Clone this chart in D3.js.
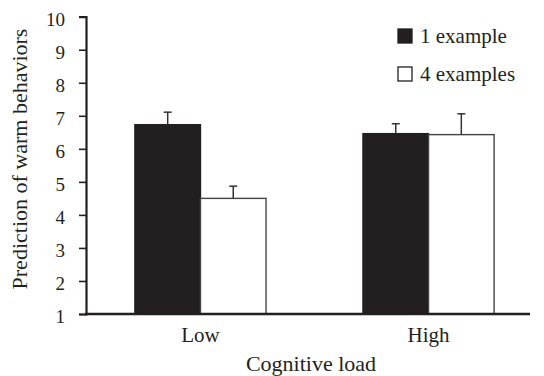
<!DOCTYPE html>
<html>
<head>
<meta charset="utf-8">
<script src="https://cdn.jsdelivr.net/npm/d3@7"></script>
<style>
  body { margin: 0; background: #fff; }
  #chart { position: relative; width: 544px; height: 376px; }
  #chart svg { position: absolute; left: 0; top: 0; }
</style>
</head>
<body>
<div id="chart">
  <div style="position:absolute; left:311px; top:353.1px; font-family:'Liberation Serif'; font-size:22px; line-height:1; color:#231f20; white-space:nowrap; transform:translateX(-50%);">Cognitive load</div>
  <div style="position:absolute; left:26.5px; top:159px; font-family:'Liberation Serif'; font-size:22px; line-height:1; color:#231f20; white-space:nowrap; transform-origin:0 0; transform:rotate(-90deg) translate(-50%, -0.8375em);">Prediction of warm behaviors</div>
</div>
<script>
// data
var categories = ["Low", "High"];
var seriesNames = ["1 example", "4 examples"];
var oneExample = [6.73, 6.46];
var fourExamples = [4.50, 6.43];
var oneExampleErr = [0.38, 0.30];
var fourExamplesErr = [0.37, 0.63];
var yTicks = [1, 2, 3, 4, 5, 6, 7, 8, 9, 10];

var svgWidth = 544;
var svgHeight = 376;
var ink = "#231f20";

var chart = d3.select("#chart");
var svg = chart.insert("svg", ":first-child")
  .attr("width", svgWidth)
  .attr("height", svgHeight);

// text goes in html so the serif face is used
function label(x, baseline, txt, size, anchor) {
  var shift = anchor === "middle" ? "-50%" : anchor === "end" ? "-100%" : "0";
  return chart.append("div")
    .attr("style", "position:absolute; font-family:'Liberation Serif'; line-height:1; color:#231f20; white-space:nowrap;"
      + " left:" + x + "px; top:" + (baseline - 0.8375 * size) + "px; font-size:" + size + "px;"
      + " transform:translateX(" + shift + ");")
    .text(txt);
}

var yScale = d3.scaleLinear()
  .domain([1, 10])
  .range([314, 16.7]);

var x0 = d3.scaleBand()
  .domain(categories)
  .range([87, 542])
  .paddingInner(0.425)
  .paddingOuter(0.21);

var x1 = d3.scaleBand()
  .domain(seriesNames)
  .range([0, x0.bandwidth()]);

var rows = [];
categories.forEach(function(c, i) {
  rows.push({cat: c, s: seriesNames[0], v: oneExample[i], e: oneExampleErr[i]});
  rows.push({cat: c, s: seriesNames[1], v: fourExamples[i], e: fourExamplesErr[i]});
});

// y axis (lines from d3, numbers as html)
var yAxis = d3.axisLeft(yScale)
  .tickValues(yTicks)
  .tickSize(7)
  .tickFormat("");

var yG = svg.append("g")
  .attr("transform", "translate(86,0)")
  .call(yAxis);
yG.select(".domain").attr("stroke", ink).attr("stroke-width", 2.2);
yG.selectAll(".tick line").attr("stroke", ink).attr("stroke-width", 1.6);

yTicks.forEach(function(t) {
  label(65, yScale(t) + 9, d3.format("d")(t), 19, "end");
});

// bars
svg.selectAll(".bar")
  .data(rows)
  .enter()
  .append("rect")
  .attr("class", "bar")
  .attr("x", d => x0(d.cat) + x1(d.s))
  .attr("y", d => yScale(d.v))
  .attr("width", x1.bandwidth())
  .attr("height", d => yScale(1) - yScale(d.v))
  .attr("fill", d => d.s === seriesNames[0] ? ink : "#fff")
  .attr("stroke", d => d.s === seriesNames[0] ? ink : "#444")
  .attr("stroke-width", 1.4);

// error bars
var errG = svg.selectAll(".err")
  .data(rows)
  .enter()
  .append("g")
  .attr("class", "err")
  .attr("stroke", "#333")
  .attr("stroke-width", 1.5);

errG.append("line")
  .attr("x1", d => x0(d.cat) + x1(d.s) + x1.bandwidth() / 2)
  .attr("x2", d => x0(d.cat) + x1(d.s) + x1.bandwidth() / 2)
  .attr("y1", d => yScale(d.v))
  .attr("y2", d => yScale(d.v + d.e));

errG.append("line")
  .attr("x1", d => x0(d.cat) + x1(d.s) + x1.bandwidth() / 2 - 4)
  .attr("x2", d => x0(d.cat) + x1(d.s) + x1.bandwidth() / 2 + 4)
  .attr("y1", d => yScale(d.v + d.e))
  .attr("y2", d => yScale(d.v + d.e));

// x axis
svg.append("line")
  .attr("x1", 85)
  .attr("x2", 530)
  .attr("y1", yScale(1))
  .attr("y2", yScale(1))
  .attr("stroke", ink)
  .attr("stroke-width", 2.6);

categories.forEach(function(c) {
  label(x0(c) + x0.bandwidth() / 2, 343, c, 21, "middle");
});

// legend
svg.selectAll(".legend")
  .data(seriesNames)
  .enter()
  .append("rect")
  .attr("class", "legend")
  .attr("x", 398)
  .attr("y", (d, i) => 29 + i * 38)
  .attr("width", 14)
  .attr("height", 14)
  .attr("fill", (d, i) => i === 0 ? ink : "#fff")
  .attr("stroke", ink)
  .attr("stroke-width", 1.3);

seriesNames.forEach(function(s, i) {
  label(420, 44 + i * 38, s, 21, "start");
});
</script>
</body>
</html>
